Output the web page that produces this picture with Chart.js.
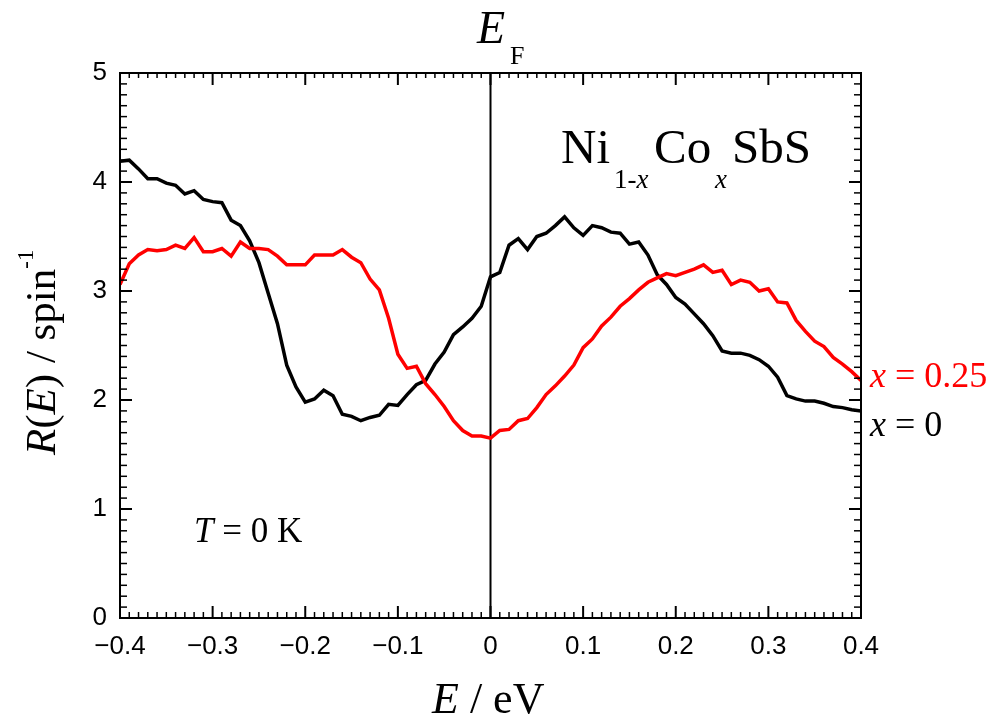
<!DOCTYPE html>
<html><head><meta charset="utf-8">
<script src="https://cdn.jsdelivr.net/npm/chart.js@4.4.0/dist/chart.umd.min.js"></script>
<style>html,body{margin:0;padding:0;background:#fff;}canvas{display:block;}</style>
</head><body>
<canvas id="c" width="996" height="722"></canvas>
<script>
// ---- data ----
const energy = [-0.40,-0.39,-0.38,-0.37,-0.36,-0.35,-0.34,-0.33,-0.32,-0.31,-0.30,-0.29,-0.28,-0.27,-0.26,-0.25,-0.24,-0.23,-0.22,-0.21,
  -0.20,-0.19,-0.18,-0.17,-0.16,-0.15,-0.14,-0.13,-0.12,-0.11,-0.10,-0.09,-0.08,-0.07,-0.06,-0.05,-0.04,-0.03,-0.02,-0.01,
  0.00,0.01,0.02,0.03,0.04,0.05,0.06,0.07,0.08,0.09,0.10,0.11,0.12,0.13,0.14,0.15,0.16,0.17,0.18,0.19,
  0.20,0.21,0.22,0.23,0.24,0.25,0.26,0.27,0.28,0.29,0.30,0.31,0.32,0.33,0.34,0.35,0.36,0.37,0.38,0.39,0.40];
const rX0 = [4.19,4.20,4.12,4.03,4.03,3.99,3.97,3.89,3.92,3.84,3.82,3.81,3.65,3.60,3.46,3.26,2.98,2.70,2.32,2.12,
  1.98,2.01,2.09,2.04,1.87,1.85,1.81,1.84,1.86,1.96,1.95,2.05,2.14,2.18,2.33,2.44,2.60,2.67,2.75,2.86,
  3.13,3.17,3.42,3.48,3.38,3.50,3.53,3.60,3.68,3.58,3.51,3.60,3.58,3.54,3.53,3.43,3.45,3.33,3.15,3.06,
  2.94,2.88,2.79,2.70,2.59,2.45,2.43,2.43,2.41,2.37,2.31,2.21,2.04,2.01,1.99,1.99,1.97,1.94,1.93,1.91,1.90];
const rX025 = [3.06,3.25,3.33,3.38,3.37,3.38,3.42,3.39,3.49,3.36,3.36,3.39,3.32,3.45,3.39,3.39,3.38,3.32,3.24,3.24,
  3.24,3.33,3.33,3.33,3.38,3.31,3.26,3.11,3.01,2.75,2.42,2.29,2.31,2.15,2.05,1.94,1.81,1.72,1.67,1.67,
  1.65,1.72,1.73,1.81,1.83,1.93,2.05,2.13,2.22,2.32,2.48,2.56,2.68,2.76,2.86,2.93,3.01,3.08,3.12,3.16,
  3.14,3.17,3.20,3.24,3.17,3.19,3.06,3.10,3.08,3.00,3.02,2.90,2.89,2.73,2.63,2.54,2.49,2.39,2.33,2.26,2.18];
const xTickValues = [-0.4,-0.3,-0.2,-0.1,0,0.1,0.2,0.3,0.4];
const xTickLabels = ['\u22120.4','\u22120.3','\u22120.2','\u22120.1','0','0.1','0.2','0.3','0.4'];
const yTickValues = [0,1,2,3,4,5];
const yTickLabels = ['0','1','2','3','4','5'];
const seriesNames = ['x = 0.25','x = 0'];

// ---- helpers ----
const SERIF = "'Liberation Serif','Times New Roman',serif";
const SANS = "'Liberation Sans Narrow','Liberation Sans',Arial,sans-serif";
function majorIndex(v, arr){ for(let i=0;i<arr.length;i++){ if(Math.abs(v-arr[i])<1e-6) return i; } return -1; }
function runs(ctx, x, y, list){
  let cx = x;
  for(const r of list){
    ctx.font = r.font;
    ctx.fillStyle = r.color || '#000';
    if(r.x !== undefined) cx = r.x;
    ctx.fillText(r.t, cx, y + (r.dy||0));
    cx += ctx.measureText(r.t).width;
  }
}
function seg(ctx,x1,y1,x2,y2){ ctx.beginPath(); ctx.moveTo(x1,y1); ctx.lineTo(x2,y2); ctx.stroke(); }

const decor = {
  id:'decor',
  beforeDatasetsDraw(chart){
    const {ctx, chartArea:a, scales:{x}} = chart;
    ctx.save();
    ctx.strokeStyle='#000'; ctx.lineWidth=2;
    const px = x.getPixelForValue(0);
    seg(ctx, px, a.top, px, a.bottom);
    ctx.restore();
  },
  afterDraw(chart){
    const {ctx, chartArea:a, scales:{x,y}} = chart;
    ctx.save();
    ctx.strokeStyle='#000';
    ctx.lineCap='butt';
    x.ticks.forEach(t=>{
      const major = majorIndex(t.value, xTickValues) >= 0;
      const px = x.getPixelForValue(t.value);
      const len = major ? 12 : 6;
      ctx.lineWidth = major ? 2 : 1.5;
      seg(ctx, px, a.bottom, px, a.bottom-len);
      seg(ctx, px, a.top, px, a.top+(major?12:5));
    });
    y.ticks.forEach(t=>{
      const major = majorIndex(t.value, yTickValues) >= 0;
      const py = y.getPixelForValue(t.value);
      const len = major ? 12 : 7;
      ctx.lineWidth = major ? 2 : 1.5;
      seg(ctx, a.left, py, a.left+len, py);
      seg(ctx, a.right, py, a.right-len, py);
    });
    ctx.lineWidth=2;
    ctx.strokeRect(a.left, a.top, a.right-a.left, a.bottom-a.top);

    ctx.textAlign='left'; ctx.textBaseline='alphabetic';
    // top title E_F
    runs(ctx, 477, 43, [{t:'E', font:'italic 46px '+SERIF}]);
    runs(ctx, 510, 64, [{t:'F', font:'26px '+SERIF}]);
    // x axis title
    runs(ctx, 432, 713, [{t:'E', font:'italic 44px '+SERIF},{t:' / eV', font:'44px '+SERIF}]);
    // y axis title (rotated)
    ctx.save();
    ctx.translate(55, 455);
    ctx.rotate(-Math.PI/2);
    runs(ctx, 0, 0, [
      {t:'R', font:'italic 43px '+SERIF},
      {t:'(', font:'43px '+SERIF},
      {t:'E', font:'italic 43px '+SERIF},
      {t:') / spin', font:'43px '+SERIF},
      {t:'-1', font:'23px '+SERIF, dy:-22}
    ]);
    ctx.restore();
    // compound label
    runs(ctx, 561, 163, [{t:'Ni', font:'49px '+SERIF}]);
    runs(ctx, 614, 188, [{t:'1-', font:'27px '+SERIF},{t:'x', font:'italic 27px '+SERIF}]);
    runs(ctx, 654, 163, [{t:'Co', font:'49px '+SERIF}]);
    runs(ctx, 715, 188, [{t:'x', font:'italic 27px '+SERIF}]);
    runs(ctx, 732, 163, [{t:'SbS', font:'49px '+SERIF}]);
    // temperature
    runs(ctx, 194, 542, [{t:'T', font:'italic 35px '+SERIF},{t:' = 0 K', font:'35px '+SERIF}]);
    // series labels
    runs(ctx, 870, 387, [{t:'x', font:'italic 36px '+SERIF, color:'#ff0000'},{t:' = 0.25', font:'36px '+SERIF, color:'#ff0000'}]);
    runs(ctx, 870, 436, [{t:'x', font:'italic 36px '+SERIF},{t:' = 0', font:'36px '+SERIF}]);
    ctx.restore();
  }
};

const pts = (ys)=> energy.map((e,i)=>({x:e, y:ys[i]}));

new Chart(document.getElementById('c'), {
  type:'line',
  data:{ datasets:[
    {label:seriesNames[0], data:pts(rX025), borderColor:'#ff0000', borderWidth:3.5, pointRadius:0, tension:0, fill:false},
    {label:seriesNames[1], data:pts(rX0), borderColor:'#000000', borderWidth:3.5, pointRadius:0, tension:0, fill:false}
  ]},
  options:{
    responsive:false, animation:false, devicePixelRatio:1,
    layout:{padding:{left:0, top:73, right:135, bottom:0}},
    plugins:{legend:{display:false}, tooltip:{enabled:false}},
    scales:{
      x:{type:'linear', min:-0.4, max:0.4,
        grid:{display:false, drawTicks:false}, border:{display:false},
        ticks:{stepSize:0.01, autoSkip:false, maxRotation:0, padding:13, color:'#000',
          font:{family:SANS, size:26},
          callback:(v)=>{const i=majorIndex(v,xTickValues); return i>=0?xTickLabels[i]:'';}},
        afterFit:(s)=>{s.height=104;}
      },
      y:{type:'linear', min:0, max:5,
        grid:{display:false, drawTicks:false}, border:{display:false},
        ticks:{stepSize:0.1, autoSkip:false, padding:13, color:'#000',
          font:{family:SANS, size:26},
          callback:(v)=>{const i=majorIndex(v,yTickValues); return i>=0?yTickLabels[i]:'';}},
        afterFit:(s)=>{s.width=120;}
      }
    }
  },
  plugins:[decor]
});
</script>
</body></html>
